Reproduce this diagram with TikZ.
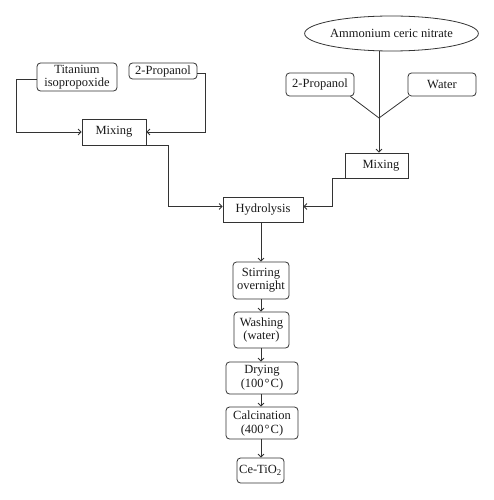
\documentclass[tikz,border=0pt]{standalone}
\usepackage{fontspec}
\setmainfont{Liberation Serif}
\usetikzlibrary{arrows.meta,shapes.geometric,calc}
\begin{document}
\begin{tikzpicture}[x=1pt,y=-1pt,
  every node/.style={font=\fontsize{12.5}{13}\selectfont, text=black!90, inner sep=0pt, align=center},
  rbox/.style={draw=black!80, line width=0.8pt, rounded corners=3.5pt},
  sbox/.style={draw=black!80, line width=0.8pt},
  conn/.style={draw=black!80, line width=0.8pt},
  arr/.style={conn, -{Straight Barb[length=3pt,width=6pt]}}]
\useasboundingbox (0,0) rectangle (493,500);
\node[rbox, minimum width=80pt, minimum height=28pt] (ti) at (77,77) {Titanium\\isopropoxide};
\node[rbox, minimum width=68pt, minimum height=16pt] (p1) at (163,71) {2-Propanol};
\node[sbox, minimum width=64pt, minimum height=26pt] (mix1) at (114,132) {Mixing};
\node[draw=black!80, line width=0.8pt, ellipse, minimum width=163pt, minimum height=35pt] (ace) at (391.5,33.5) {Ammonium ceric nitrate};
\node[rbox, minimum width=68pt, minimum height=23pt] (p2) at (320,84.5) {2-Propanol};
\node[rbox, minimum width=68pt, minimum height=23pt] (wat) at (442,84.5) {Water};
\coordinate (junc) at (379,118);
\node[sbox, minimum width=63pt, minimum height=25pt] (mix2) at (376.5,165.5) {\hspace{9pt}Mixing};
\node[sbox, minimum width=80pt, minimum height=25pt] (hyd) at (263,209.5) {Hydrolysis};
\node[rbox, minimum width=56pt, minimum height=37pt] (stir) at (261,280.5) {Stirring\\overnight};
\node[rbox, minimum width=55pt, minimum height=36pt] (wash) at (261.5,330) {Washing\\(water)};
\node[rbox, minimum width=72pt, minimum height=32pt] (dry) at (262,378) {Drying\\[1pt](100\kern1pt°\kern1pt C)};
\node[rbox, minimum width=72pt, minimum height=32pt] (calc) at (262,423) {Calcination\\[1pt](400\kern1pt°\kern1pt C)};
\node[rbox, minimum width=47pt, minimum height=25pt] (ce) at (260.5,470.5) {Ce-TiO\textsubscript{2}};

\draw[arr] ($(ti.west)+(0,2)$) -- ++(-20,0) |- (mix1.west);
\draw[arr] ($(p1.east)+(0,2)$) -- ++(8,0) |- (mix1.east);
\draw[arr] (mix1.south east) -- ++(22,0) |- ($(hyd.west)+(0,-3)$);
\draw[arr] (mix2.south west) -- ++(-12,0) |- ($(hyd.east)+(0,-3)$);
\draw[conn] (ace.south -| junc) -- (junc);
\draw[conn] ($(p2.south east)+(-4,0)$) -- (junc);
\draw[conn] ($(wat.south west)+(1,0)$) -- (junc);
\draw[arr] (junc) -- (mix2.north -| junc);
\draw[arr] (hyd.south -| stir.north) -- (stir.north);
\draw[arr] (stir.south) -- (stir.south |- wash.north);
\draw[arr] (wash.south -| stir.south) -- (dry.north -| stir.south);
\draw[arr] (dry.south -| stir.south) -- (calc.north -| stir.south);
\draw[arr] (calc.south -| stir.south) -- (ce.north -| stir.south);
\end{tikzpicture}
\end{document}
